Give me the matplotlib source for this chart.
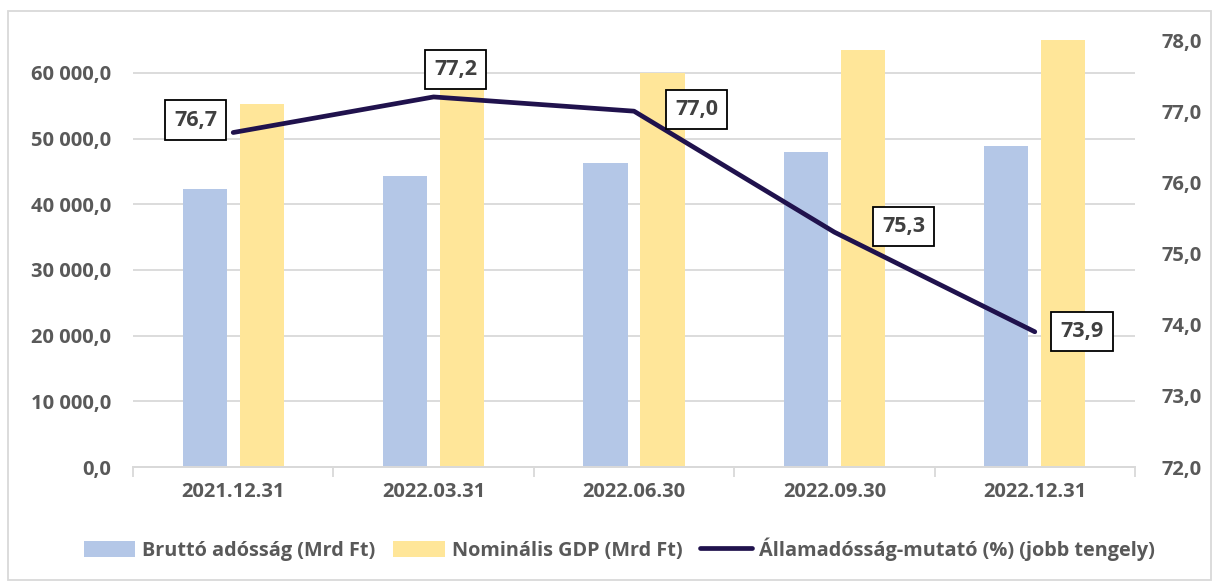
import numpy as np
import matplotlib.pyplot as plt
from matplotlib.patches import Rectangle
from matplotlib.ticker import FuncFormatter, FixedLocator

plt.rcParams['font.family'] = ['Open Sans', 'DejaVu Sans']

# adatok
datumok = ['2021.12.31', '2022.03.31', '2022.06.30', '2022.09.30', '2022.12.31']
brutto_adossag = [42300, 44300, 46300, 47900, 48800]
nominalis_gdp = [55200, 57700, 60000, 63500, 65100]
mutato = [76.7, 77.2, 77.0, 75.3, 73.9]

szurke = '#595959'
kek = '#b4c7e7'
sarga = '#ffe699'
sotet = '#20124d'

fig = plt.figure(figsize=(12.19, 5.83), dpi=100)
ax = fig.add_axes([133 / 1219, 1 - 467 / 583, (1135 - 133) / 1219, (467 - 40) / 583])
ax2 = ax.twinx()

x = np.arange(len(datumok))
w = 0.22
ax.bar(x - 0.142, brutto_adossag, w, color=kek, label='Bruttó adósság (Mrd Ft)', zorder=2)
ax.bar(x + 0.142, nominalis_gdp, w, color=sarga, label='Nominális GDP (Mrd Ft)', zorder=2)
ax2.plot(x, mutato, color=sotet, lw=3.4, solid_capstyle='round',
         label='Államadósság-mutató (%) (jobb tengely)')

ax.set_xlim(-0.5, len(datumok) - 0.5)
ax.set_ylim(0, 65000)
ax2.set_ylim(72, 78)

def hu_fmt(v, pos):
    s = f'{v:,.1f}'.replace(',', ' ').replace('.', ',')
    return s

ax.yaxis.set_major_locator(FixedLocator(np.arange(0, 60001, 10000)))
ax.yaxis.set_major_formatter(FuncFormatter(hu_fmt))
ax2.yaxis.set_major_locator(FixedLocator(np.arange(72, 78.1, 1)))
ax2.yaxis.set_major_formatter(FuncFormatter(lambda v, p: f'{v:.1f}'.replace('.', ',')))

ax.grid(axis='y', color='#d9d9d9', lw=1.3, zorder=0)
ax.set_axisbelow(True)
for a in (ax, ax2):
    for s in ('top', 'left', 'right'):
        a.spines[s].set_visible(False)
    a.spines['bottom'].set_color('#d9d9d9')
    a.spines['bottom'].set_linewidth(1.3)

ax.set_xticks(x)
ax.set_xticklabels(datumok)
ax.set_xticks(np.arange(-0.5, len(datumok)), minor=True)
ax.tick_params(axis='x', which='major', length=0, pad=11, labelsize=14.5, labelcolor=szurke)
ax.tick_params(axis='x', which='minor', length=7, color='#d9d9d9', width=1.3)
ax.tick_params(axis='y', length=0, pad=16, labelsize=14.5, labelcolor=szurke)
ax2.tick_params(axis='y', length=0, pad=19, labelsize=14.5, labelcolor=szurke)
for t in ax.get_xticklabels() + ax.get_yticklabels() + ax2.get_yticklabels():
    t.set_fontweight('bold')

# adatcímkék
eltolas = [(-27, 9), (16, 20), (45, 1), (50, 4), (34, 0)]
for xi, v, off in zip(x, mutato, eltolas):
    ax2.annotate(f'{v:.1f}'.replace('.', ','), (xi, v), xytext=off, textcoords='offset points',
                 ha='center', va='center', fontsize=15.5, fontweight='bold', color='#404040',
                 bbox=dict(boxstyle='square,pad=0.42', fc='white', ec='black', lw=1.3),
                 zorder=5)

h1, l1 = ax.get_legend_handles_labels()
h2, l2 = ax2.get_legend_handles_labels()
leg = fig.legend(h1 + h2, l1 + l2, loc='center', bbox_to_anchor=(0.508, 1 - 549 / 583), ncol=3,
                 frameon=False, fontsize=14.3, handlelength=2.6, handleheight=0.9,
                 columnspacing=0.9, handletextpad=0.35)
for t in leg.get_texts():
    t.set_fontweight('bold')
    t.set_color(szurke)

fig.patches.append(Rectangle((8 / 1219, 3 / 583), 1203 / 1219, 569 / 583,
                             transform=fig.transFigure, fill=False, ec='#d9d9d9', lw=1.3))

fig.savefig('out.png', dpi=100)
